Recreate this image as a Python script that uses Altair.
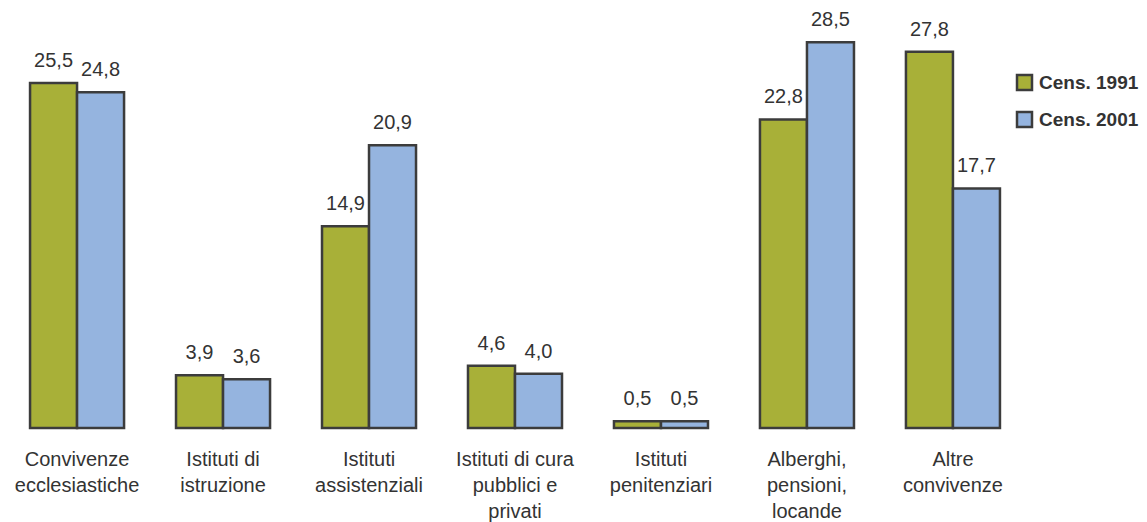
import altair as alt
import pandas as pd

categories = [
    "Convivenze|ecclesiastiche",
    "Istituti di|istruzione",
    "Istituti|assistenziali",
    "Istituti di cura|pubblici e|privati",
    "Istituti|penitenziari",
    "Alberghi,|pensioni,|locande",
    "Altre|convivenze",
]
series = ["Cens. 1991", "Cens. 2001"]
v1991 = [25.5, 3.9, 14.9, 4.6, 0.5, 22.8, 27.8]
v2001 = [24.8, 3.6, 20.9, 4.0, 0.5, 28.5, 17.7]

rows = []
for c, a, b in zip(categories, v1991, v2001):
    rows.append({"cat": c, "serie": series[0], "val": a})
    rows.append({"cat": c, "serie": series[1], "val": b})
df = pd.DataFrame(rows)
df["lab"] = df["val"].map(lambda v: f"{v:.1f}".replace(".", ","))

FONT = "Liberation Sans"
TXT = "#333333"

x = alt.X(
    "cat:N", sort=categories, title=None,
    scale=alt.Scale(paddingInner=0.356, paddingOuter=0.151),
    axis=alt.Axis(labelExpr="split(datum.label, '|')", labelAngle=0, ticks=False,
                  domain=False, labelPadding=21, labelFontSize=20, labelFont=FONT,
                  labelColor=TXT, labelLineHeight=26, labelBaseline="top",
                  labelLimit=0, labelOverlap=False),
)
xo = alt.XOffset("serie:N", sort=series, scale=alt.Scale(paddingInner=0, paddingOuter=0))
y = alt.Y("val:Q", scale=alt.Scale(domain=[0, 30], nice=False), axis=None)
color = alt.Color(
    "serie:N", sort=series,
    scale=alt.Scale(domain=series, range=["#A8B038", "#95B4DF"]),
    legend=alt.Legend(title=None, orient="none", legendX=1007, legendY=51,
                      symbolType="square", symbolSize=225, symbolStrokeColor="#3c3c3c",
                      symbolStrokeWidth=2.5, labelFontSize=19, labelFontWeight="bold",
                      labelFont=FONT, labelColor=TXT, rowPadding=12, labelOffset=5,
                      symbolOpacity=1),
)

bars = alt.Chart(df).mark_bar(stroke="#3c3c3c", strokeWidth=2.5).encode(
    x=x, xOffset=xo, y=y, color=color
)
labels = alt.Chart(df).mark_text(
    baseline="alphabetic", dy=-16, fontSize=20, font=FONT, color=TXT
).encode(x=x, xOffset=xo, y=y, text="lab:N")

chart = alt.layer(bars, labels).properties(
    width=1014, height=406,
    padding={"left": 0, "top": 14, "right": 117, "bottom": 100},
    autosize=alt.AutoSizeParams(type="none"),
).configure_view(stroke=None)

chart.save("out.html", embed_options={"renderer": "svg", "actions": False})
